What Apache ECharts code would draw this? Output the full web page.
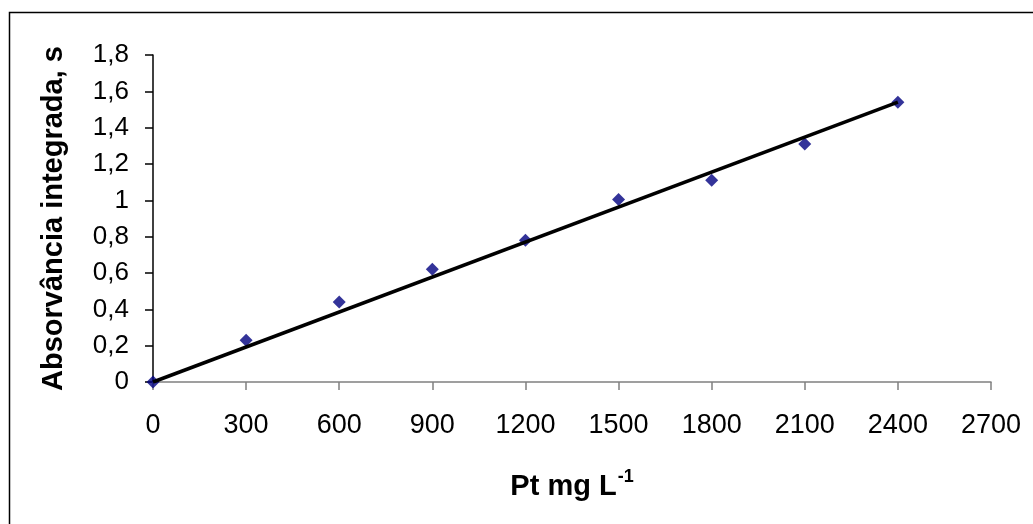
<!DOCTYPE html>
<html><head><meta charset="utf-8">
<script src="https://cdn.jsdelivr.net/npm/echarts@6/dist/echarts.min.js"></script>
<style>html,body{margin:0;padding:0;background:#fff}#c{width:1033px;height:524px}</style>
</head><body><div id="c"></div>
<script>
var concentrations = [0, 300, 600, 900, 1200, 1500, 1800, 2100, 2400];
var absorbance = [0, 0.23, 0.44, 0.62, 0.78, 1.005, 1.11, 1.31, 1.54];
var trendX = [0, 2400];
var trendY = [0, 1.54];
var xTitle = 'Pt mg L';
var xTitleSup = '-1';
var yTitle = 'Absorvância integrada, s';

var chart = echarts.init(document.getElementById('c'));
var font = 'Liberation Sans, Arial, sans-serif';
chart.setOption({
  animation: false,
  backgroundColor: '#fff',
  graphic: [{type: 'rect', shape: {x: 9.5, y: 12.5, width: 1100, height: 600}, style: {fill: 'none', stroke: '#000', lineWidth: 1.5}, silent: true}],
  grid: {left: 153, right: 42, top: 55, bottom: 142},
  xAxis: {
    type: 'value', min: 0, max: 2700, interval: 300,
    axisLine: {show: true, onZero: false, lineStyle: {color: '#808080', width: 1.5}},
    axisTick: {show: true, inside: false, length: 8, lineStyle: {color: '#808080', width: 1.5}},
    splitLine: {show: false},
    axisLabel: {color: '#000', fontSize: 27, fontFamily: font, margin: 30,
      formatter: function (v) { return String(v); }},
    name: '{a|' + xTitle + '}{b|' + xTitleSup + '}',
    nameLocation: 'middle', nameGap: 86,
    nameTextStyle: {
      rich: {
        a: {fontSize: 29, fontWeight: 'bold', fontFamily: font, color: '#000', verticalAlign: 'bottom'},
        b: {fontSize: 18, fontWeight: 'bold', fontFamily: font, color: '#000', verticalAlign: 'top', padding: [0, 0, 15, 1]}
      }
    }
  },
  yAxis: {
    type: 'value', min: 0, max: 1.8, interval: 0.2,
    axisLine: {show: true, lineStyle: {color: '#000', width: 1.5}},
    axisTick: {show: true, inside: false, length: 8, lineStyle: {color: '#000', width: 1.5}},
    splitLine: {show: false},
    axisLabel: {color: '#000', fontSize: 26, fontFamily: font, margin: 24,
      formatter: function (v) { return String(+v.toFixed(1)).replace('.', ','); }},
    name: yTitle, nameLocation: 'middle', nameGap: 85, nameRotate: 90,
    nameTextStyle: {fontSize: 29, fontWeight: 'bold', fontFamily: font, color: '#000'}
  },
  series: [
    {type: 'scatter', symbol: 'path://M0,-1L1,0L0,1L-1,0Z', symbolSize: 13,
      itemStyle: {color: '#000080'},
      data: concentrations.map(function (x, i) { return [x, absorbance[i]]; }), z: 2},
    {type: 'line', showSymbol: false, symbol: 'none',
      lineStyle: {color: '#000', width: 3.5},
      data: trendX.map(function (x, i) { return [x, trendY[i]]; }), z: 3}
  ]
});
</script></body></html>
